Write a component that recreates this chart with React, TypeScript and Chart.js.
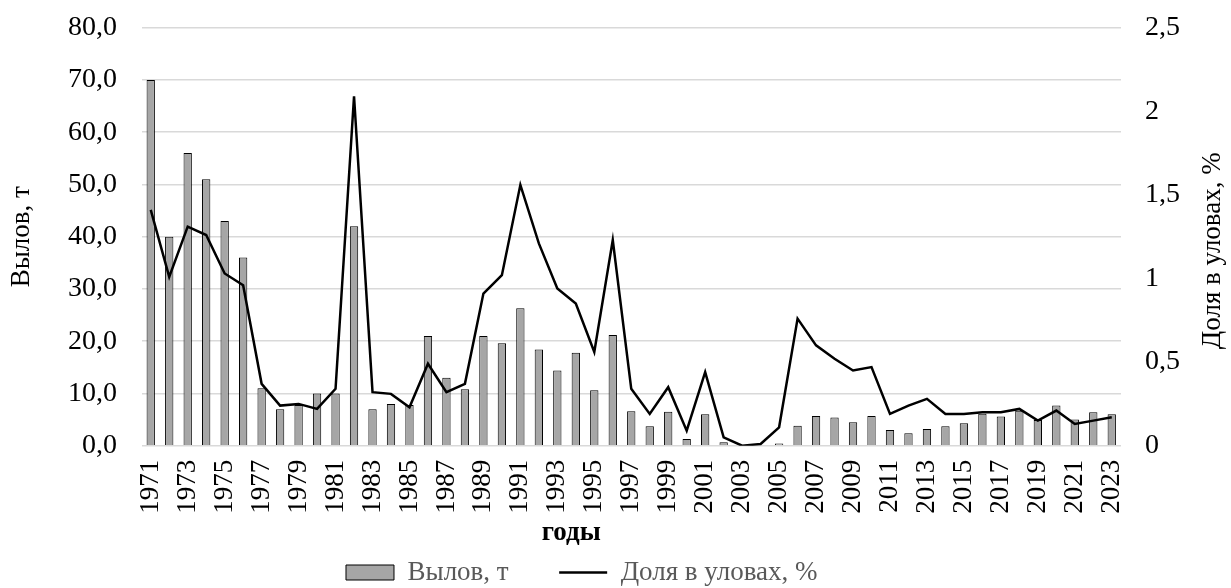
import React, { useEffect, useRef } from "react";
import { Chart, registerables } from "chart.js";

Chart.register(...registerables);

const YEARS = [
  "1971","1972","1973","1974","1975","1976","1977","1978","1979","1980",
  "1981","1982","1983","1984","1985","1986","1987","1988","1989","1990",
  "1991","1992","1993","1994","1995","1996","1997","1998","1999","2000",
  "2001","2002","2003","2004","2005","2006","2007","2008","2009","2010",
  "2011","2012","2013","2014","2015","2016","2017","2018","2019","2020",
  "2021","2022","2023",
];

const CATCH_T = [
  70.0, 40.0, 56.0, 51.0, 43.0, 36.0, 11.0, 7.0, 7.8, 10.0,
  10.0, 42.0, 7.0, 8.0, 7.8, 21.0, 13.0, 10.8, 21.0, 19.6,
  26.3, 18.4, 14.4, 17.8, 10.6, 21.2, 6.6, 3.7, 6.5, 1.3,
  6.0, 0.65, 0, 0, 0.4, 3.8, 5.7, 5.4, 4.5, 5.7,
  3.0, 2.4, 3.2, 3.7, 4.3, 6.1, 5.6, 6.7, 4.9, 7.7,
  5.0, 6.4, 6.0,
];

const SHARE_PCT = [
  1.41, 1.01, 1.31, 1.26, 1.03, 0.96, 0.37, 0.24, 0.25, 0.22,
  0.34, 2.09, 0.32, 0.31, 0.23, 0.49, 0.32, 0.37, 0.91, 1.02,
  1.56, 1.21, 0.94, 0.85, 0.56, 1.23, 0.34, 0.19, 0.35, 0.09,
  0.44, 0.05, 0.0, 0.01, 0.11, 0.76, 0.60, 0.52, 0.45, 0.47,
  0.19, 0.24, 0.28, 0.19, 0.19, 0.20, 0.20, 0.22, 0.15, 0.21,
  0.13, 0.15, 0.17,
];

const BAR_LABEL = "Вылов, т";
const LINE_LABEL = "Доля в уловах, %";
const X_TITLE = "годы";
const Y_LEFT_TITLE = "Вылов, т";
const Y_RIGHT_TITLE = "Доля в уловах, %";

const FONT = '"Liberation Serif", "Times New Roman", serif';

const customTitles = {
  id: "customTitles",
  afterDraw(chart: any) {
    const { ctx, chartArea } = chart;
    ctx.save();
    ctx.fillStyle = "#000";
    ctx.textAlign = "center";
    ctx.textBaseline = "middle";
    ctx.font = `bold 27px ${FONT}`;
    ctx.fillText(X_TITLE, (chartArea.left + chartArea.right) / 2 - 60, chartArea.bottom + 87);
    ctx.font = `27px ${FONT}`;
    ctx.translate(chart.width - 18, (chartArea.top + chartArea.bottom) / 2 + 14);
    ctx.rotate(-Math.PI / 2);
    ctx.fillText(Y_RIGHT_TITLE, 0, 0);
    ctx.restore();
  },
};

const noPad = (s: any) => {
  s.paddingTop = 0;
  s.paddingBottom = 0;
};

export default function App() {
  const ref = useRef<HTMLCanvasElement | null>(null);

  useEffect(() => {
    if (!ref.current) return;
    const chart = new Chart(ref.current, {
      type: "bar",
      data: {
        labels: YEARS,
        datasets: [
          {
            type: "bar",
            label: BAR_LABEL,
            data: CATCH_T,
            yAxisID: "y",
            backgroundColor: "#a6a6a6",
            borderColor: "#000000",
            borderWidth: 1,
            barPercentage: 0.45,
            categoryPercentage: 1,
            order: 2,
          },
          {
            type: "line",
            label: LINE_LABEL,
            data: SHARE_PCT,
            yAxisID: "y1",
            borderColor: "#000000",
            backgroundColor: "#000000",
            borderWidth: 2.5,
            pointRadius: 0,
            tension: 0,
            order: 1,
          },
        ] as any,
      },
      options: {
        responsive: false,
        animation: false,
        devicePixelRatio: 1,
        layout: { padding: { left: 0, right: 0, top: 27.7, bottom: -8 } },
        plugins: {
          tooltip: { enabled: false },
          legend: {
            position: "bottom",
            labels: {
              usePointStyle: true,
              pointStyleWidth: 48,
              boxHeight: 15,
              padding: 37,
              color: "#595959",
              font: { family: FONT, size: 27 },
              sort: (a: any, b: any) => a.datasetIndex - b.datasetIndex,
              generateLabels: (chart: any) => {
                const items = Chart.defaults.plugins.legend.labels.generateLabels(chart);
                items.forEach((it: any) => {
                  if (it.datasetIndex === 0) {
                    it.pointStyle = "rect";
                    it.text = it.text + "\u00a0\u00a0";
                  } else {
                    it.pointStyle = "line";
                    it.lineWidth = 2.5;
                    it.text = it.text + "\u00a0".repeat(10);
                  }
                });
                return items;
              },
            },
          },
        },
        scales: {
          x: {
            grid: { display: false, drawTicks: false },
            border: { display: false },
            ticks: {
              autoSkip: false,
              maxRotation: 90,
              minRotation: 90,
              padding: 14,
              color: "#000",
              font: { family: FONT, size: 27 },
              callback: (_v: any, i: number) => (i % 2 === 0 ? YEARS[i] : ""),
            },
            afterFit: (s: any) => {
              s.height = 76.3;
            },
          },
          y: {
            position: "left",
            min: 0,
            max: 80,
            grid: { color: "#d9d9d9", lineWidth: 1.5, drawTicks: false },
            border: { display: false },
            ticks: {
              stepSize: 10,
              padding: 24.5,
              color: "#000",
              font: { family: FONT, size: 28 },
              callback: (v: any) => Number(v).toFixed(1).replace(".", ","),
            },
            title: {
              display: true,
              text: Y_LEFT_TITLE,
              color: "#000",
              font: { family: FONT, size: 27 },
              padding: { top: 6, bottom: 0 },
            },
            afterFit: (s: any) => {
              s.width = 141.5;
              noPad(s);
            },
          },
          y1: {
            position: "right",
            min: 0,
            max: 2.5,
            grid: { display: false, drawTicks: false },
            border: { display: false },
            ticks: {
              stepSize: 0.5,
              padding: 24,
              color: "#000",
              font: { family: FONT, size: 28 },
              callback: (v: any) => String(v).replace(".", ","),
            },
            afterFit: (s: any) => {
              s.width = 110;
              noPad(s);
            },
          },
        },
      },
      plugins: [customTitles],
    });
    return () => chart.destroy();
  }, []);

  return (
    <div style={{ position: "absolute", left: 0, top: 0, width: 1231, height: 588, background: "#fff" }}>
      <canvas ref={ref} width={1231} height={588} />
    </div>
  );
}
